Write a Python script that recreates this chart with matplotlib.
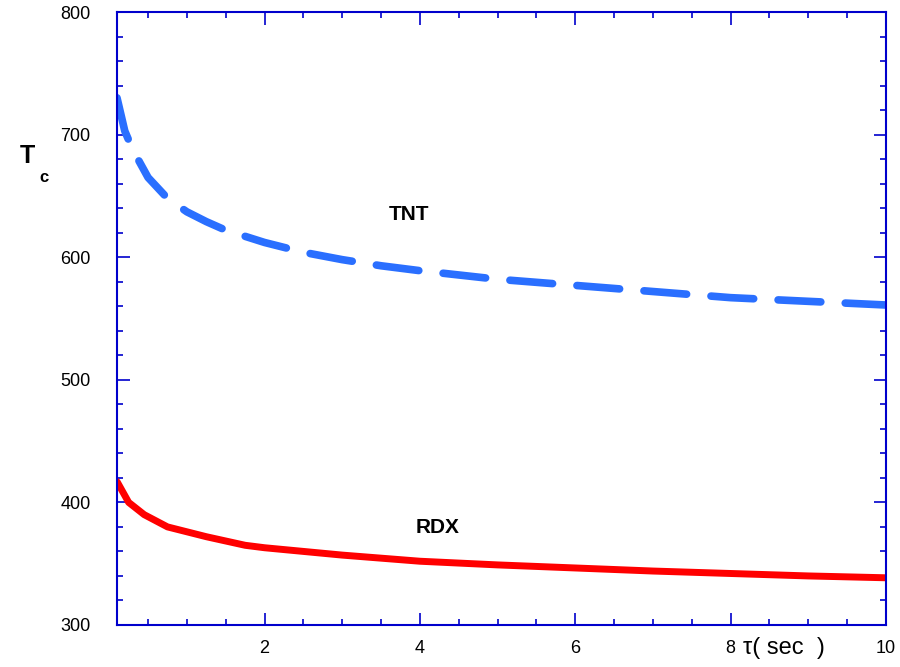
import numpy as np
import matplotlib
matplotlib.use('Agg')
from matplotlib import pyplot as plt
from matplotlib.ticker import MultipleLocator

plt.rcParams['font.family'] = ['Liberation Sans', 'DejaVu Sans']

# curves
tnt_x = [0.1, 0.2, 0.3, 0.5, 0.75, 1.0, 1.25, 1.5, 2.0, 2.5, 3.0, 3.5, 4.0, 5.0, 6.0, 7.0, 8.0, 9.0, 10.0]
tnt_y = [730, 703, 688, 665, 648, 637, 629, 622, 612, 604, 598, 593, 589, 582, 577, 572, 567, 564, 561]

rdx_x = [0.1, 0.25, 0.45, 0.75, 1.0, 1.25, 1.75, 2.0, 2.5, 3.0, 4.0, 5.0, 6.0, 7.0, 8.0, 9.0, 10.0]
rdx_y = [417, 400, 390, 380, 376, 372, 365, 363, 360, 357, 352, 349, 346.5, 344, 342, 340, 338.5]

xticks = [2, 4, 6, 8, 10]
yticks = [300, 400, 500, 600, 700, 800]

axcol = '#0000cc'

fig = plt.figure(figsize=(9, 6.67), dpi=100)
ax = fig.add_axes([0.13, 0.063, 0.8544, 0.919])

ax.plot(tnt_x, tnt_y, color='#2a6fff', lw=5.5, dashes=(5.6, 3.2),
        dash_capstyle='round', solid_capstyle='round')
ax.plot(rdx_x, rdx_y, color='#ff0000', lw=5.0, solid_capstyle='round')

ax.set_xlim(0.1, 10)
ax.set_ylim(300, 800)
ax.set_xticks(xticks)
ax.set_yticks(yticks)
ax.xaxis.set_minor_locator(MultipleLocator(0.5))
ax.yaxis.set_minor_locator(MultipleLocator(20))

for s in ax.spines.values():
    s.set_color(axcol)
    s.set_linewidth(1.5)

ax.tick_params(which='both', direction='in', top=True, right=True,
               color=axcol, width=1.2, labelsize=13, labelcolor='black')
ax.tick_params(which='major', length=9)
ax.tick_params(which='minor', length=4.5)
ax.tick_params(axis='x', which='major', pad=11)
ax.tick_params(axis='y', which='major', pad=19)

ax.text(3.6, 630, 'TNT', fontsize=15, fontweight='bold')
ax.text(3.95, 375, 'RDX', fontsize=15, fontweight='bold')

fig.text(0.022, 0.755, 'T', fontsize=18, fontweight='bold')
fig.text(0.044, 0.727, 'c', fontsize=12, fontweight='bold')
fig.text(0.826, 0.02, 'τ( sec  )', fontsize=17, ha='left')

fig.savefig('out.png', dpi=100)
